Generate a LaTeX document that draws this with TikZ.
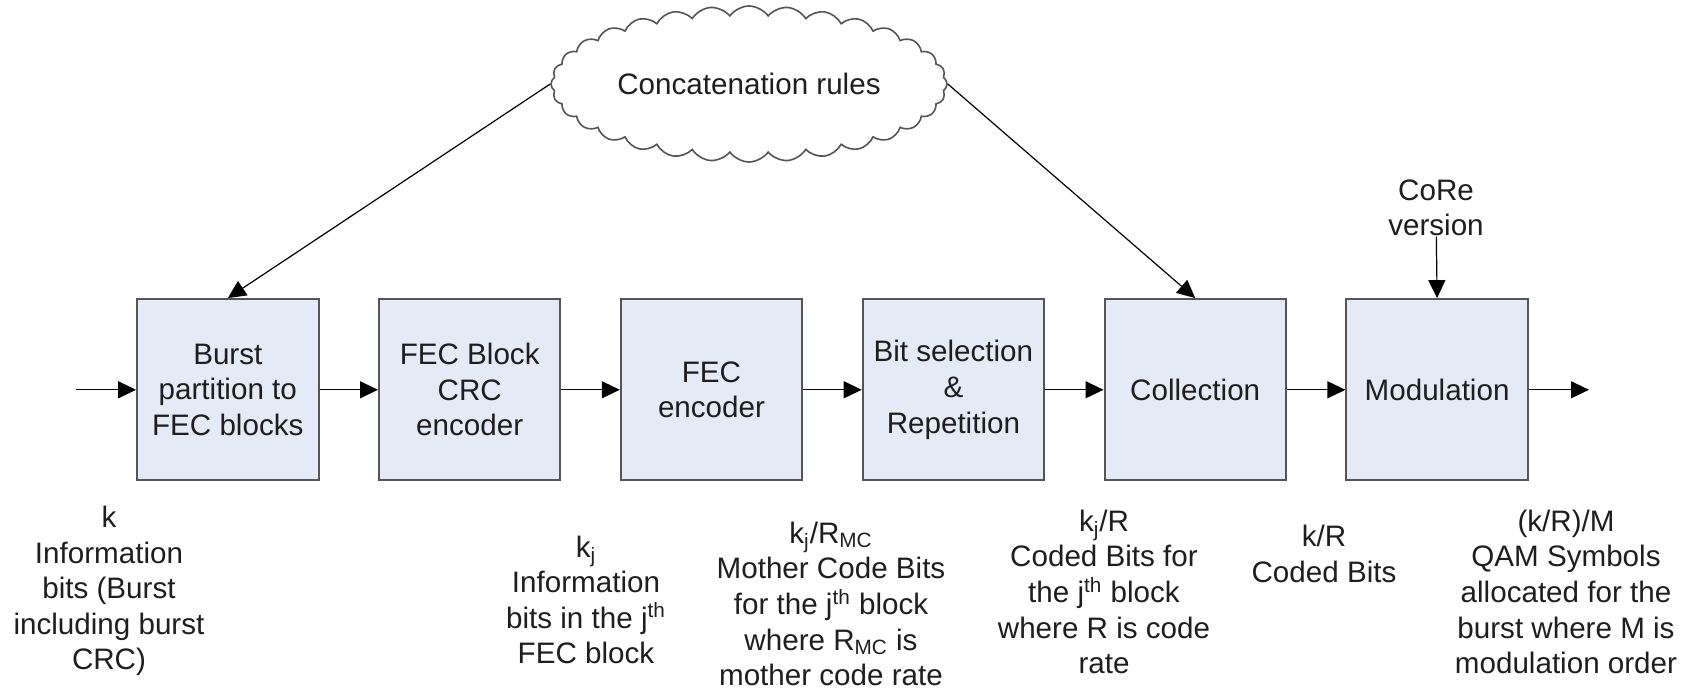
\documentclass[tikz,border=0pt]{standalone}
\usepackage{fontspec}
\setmainfont{Liberation Sans}
\usetikzlibrary{arrows.meta,shapes.symbols}
\definecolor{boxfill}{RGB}{228,234,246}
\definecolor{boxline}{RGB}{85,85,85}
\definecolor{ink}{RGB}{30,30,30}
\tikzset{>/.tip={Triangle[length=9pt,width=8.5pt]},
  every node/.style={text=ink,font=\fontsize{14.8pt}{17.8pt}\selectfont},
  block/.style={draw=boxline,fill=boxfill,line width=1pt,minimum width=90.7pt,minimum height=90.7pt,inner sep=0pt,align=center},
  note/.style={align=center,inner sep=0pt}}

\begin{document}
\begin{tikzpicture}[x=0.5pt,y=-0.5pt]
\useasboundingbox (0,0) rectangle (1693,689);
\node[block] (1) at (227.8,389.8)  {Burst\\partition to\\FEC blocks};
\node[block] (2) at (469.7,389.8)  {FEC Block\\CRC\\encoder};
\node[block] (3) at (711.5,389.8)  {FEC\\encoder};
\node[block] (4) at (953.4,389.8)  {Bit selection\\\&\\Repetition};
\node[block] (5) at (1195.2,389.8) {Collection};
\node[block] (6) at (1437.1,389.8) {Modulation};
\node[cloud,draw=boxline,line width=0.8pt,cloud puffs=32,cloud puff arc=110,aspect=3.2,
  minimum width=198pt,minimum height=78pt,inner sep=0pt] (c) at (749,84) {Concatenation rules};
\node[note] (v) at (1436,208) {CoRe\\version};
\coordinate (0) at (76,389.8);
\coordinate (7) at (1589,389.8);

\path[->, line width=0.6pt] (0) edge (1);
\path[->, line width=0.6pt] (1) edge (2);
\path[->, line width=0.6pt] (2) edge (3);
\path[->, line width=0.6pt] (3) edge (4);
\path[->, line width=0.6pt] (4) edge (5);
\path[->, line width=0.6pt] (5) edge (6);
\path[->, line width=0.6pt] (6) edge (7);
\path[->, line width=0.6pt] (c.west) edge (1.north);
\path[->, line width=0.6pt] (c.east) edge (5.north);
\path[->, line width=0.6pt] (v) edge (6.north);

\node[note] (l1) at (109,591)  {k\\Information\\bits (Burst\\including burst\\CRC)};
\node[note] (l2) at (586,600)  {k\textsubscript{j}\\Information\\bits in the j\textsuperscript{th}\\FEC block};
\node[note] (l3) at (831,604)  {k\textsubscript{j}/R\textsubscript{MC}\\Mother Code Bits\\for the j\textsuperscript{th} block\\where R\textsubscript{MC} is\\mother code rate};
\node[note] (l4) at (1104,592) {k\textsubscript{j}/R\\Coded Bits for\\the j\textsuperscript{th} block\\where R is code\\rate};
\node[note] (l5) at (1324,554) {k/R\\Coded Bits};
\node[note] (l6) at (1566,592) {(k/R)/M\\QAM Symbols\\allocated for the\\burst where M is\\modulation order};
\end{tikzpicture}
\end{document}
